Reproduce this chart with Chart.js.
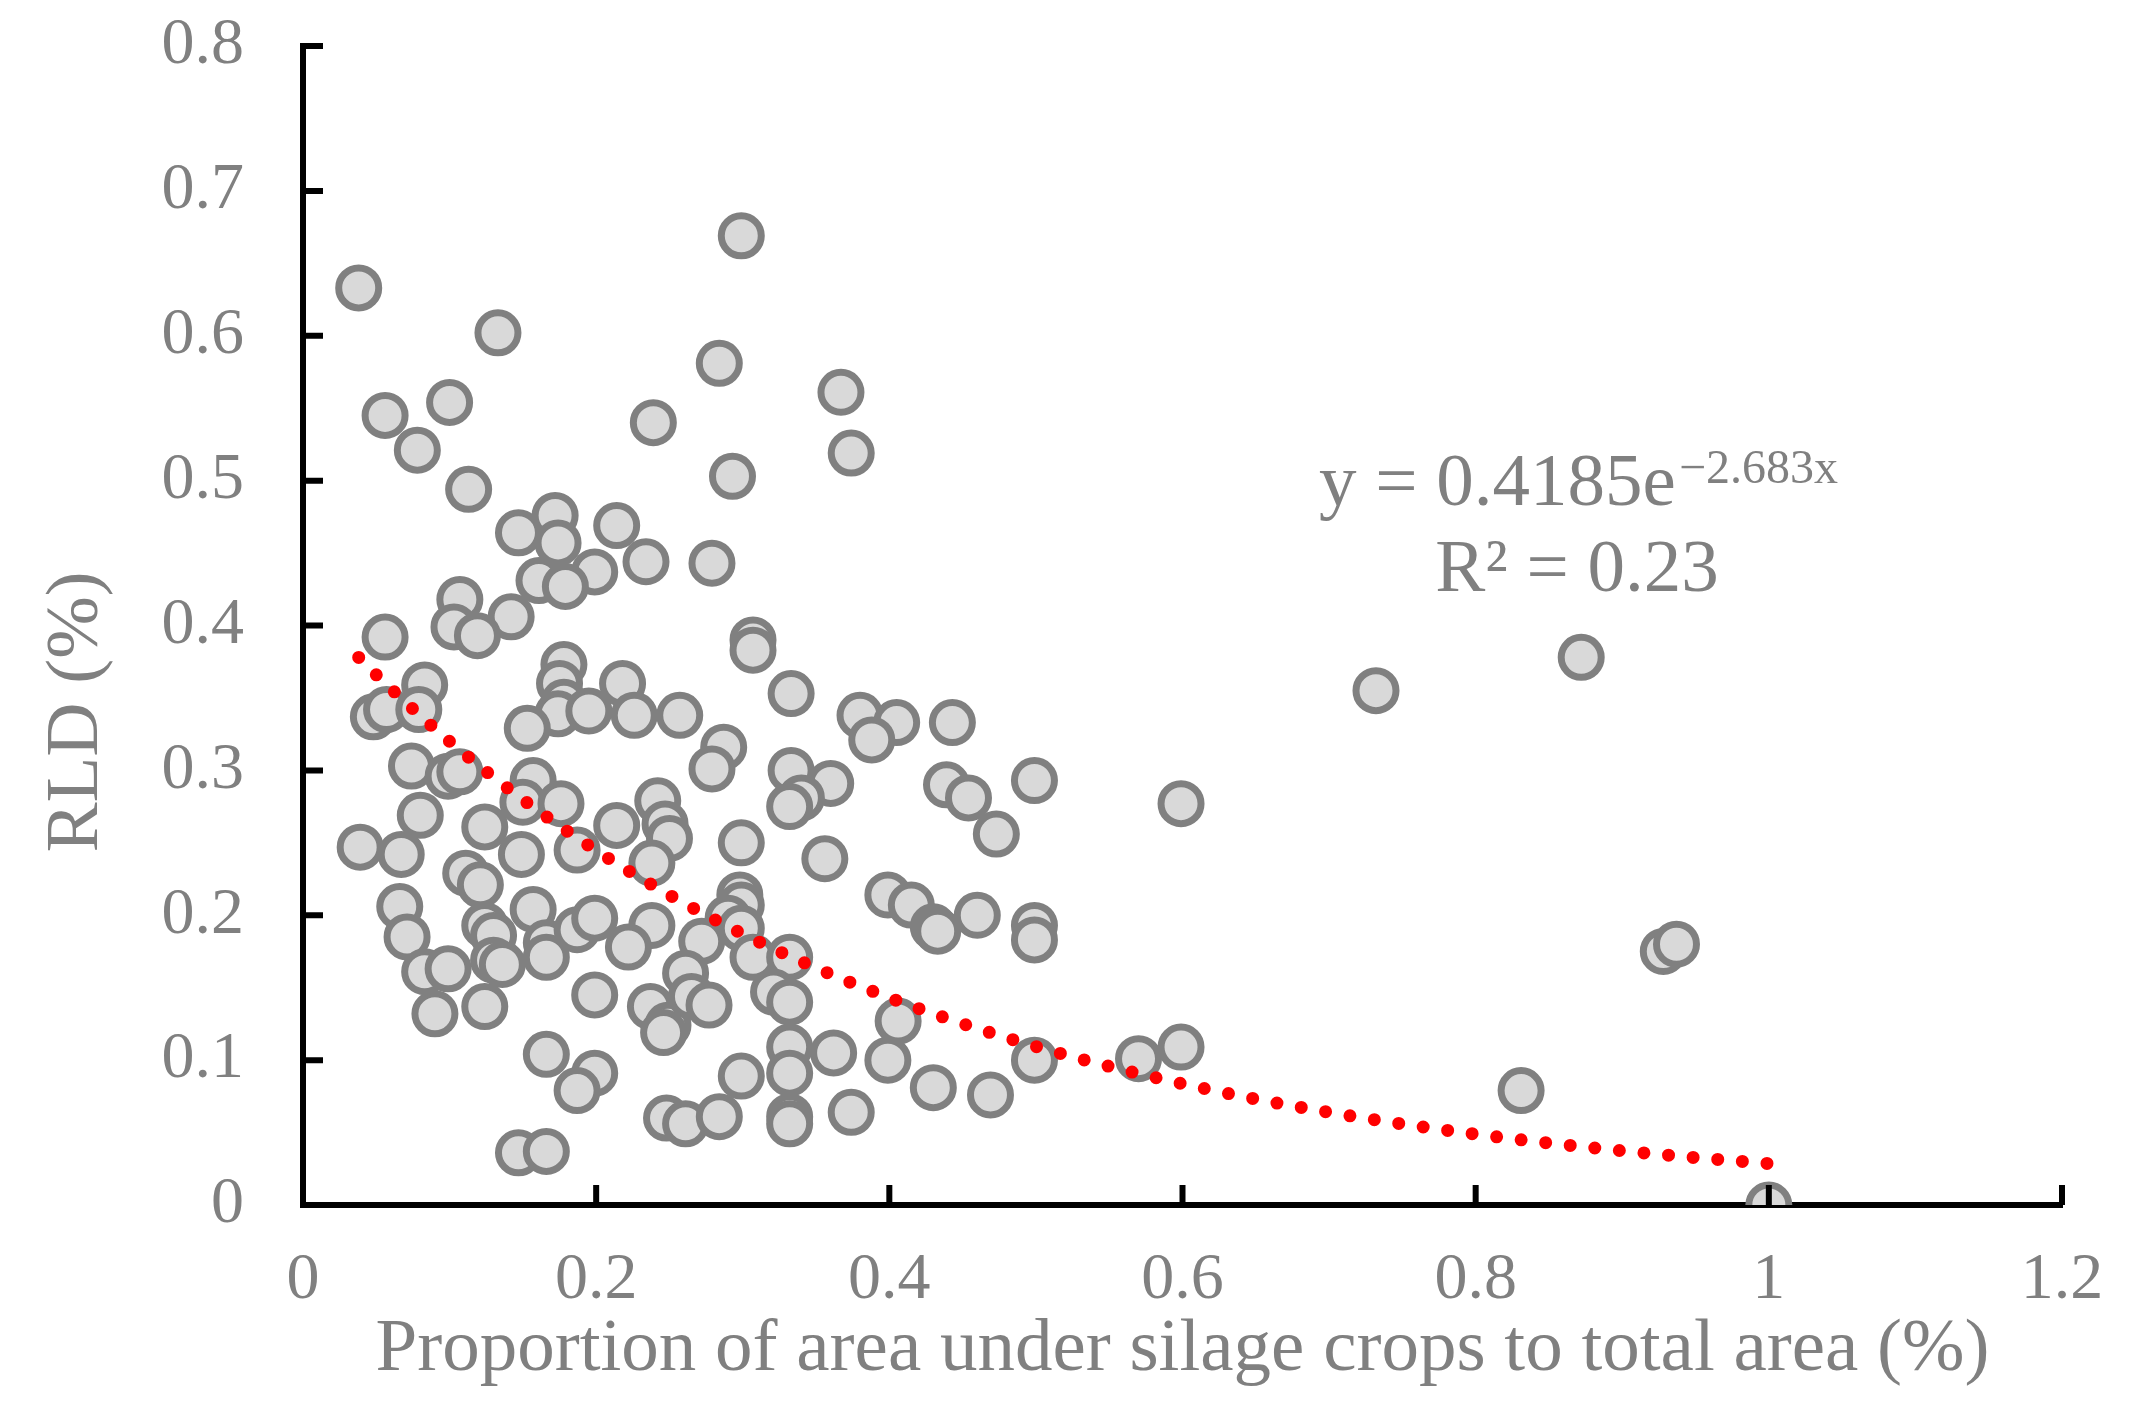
<!DOCTYPE html>
<html>
<head>
<meta charset="utf-8">
<script src="https://cdn.jsdelivr.net/npm/chart.js@4.4.0/dist/chart.umd.min.js"></script>
<style>
  html, body { margin: 0; padding: 0; background: #fff; }
  #wrap { width: 2134px; height: 1419px; }
</style>
</head>
<body>
<div id="wrap"><canvas id="rldChart" width="2134" height="1419"></canvas></div>
<script>
// Proportion of area under silage crops (x) vs RLD (y)
const propX = [
  0.038, 0.299, 0.133, 0.284, 0.056, 0.100, 0.367, 0.078, 0.374, 0.239,
  0.293, 0.113, 0.147, 0.172, 0.174, 0.214, 0.234, 0.279, 0.199, 0.161,
  0.179, 0.107, 0.142, 0.103, 0.119, 0.056, 0.307, 0.307, 0.178, 0.175,
  0.218, 0.178, 0.174, 0.195, 0.226, 0.257, 0.153, 0.287, 0.279, 0.083,
  0.048, 0.057, 0.079, 0.074, 0.099, 0.107, 0.333, 0.380, 0.405, 0.388,
  0.443, 0.333, 0.360, 0.340, 0.332, 0.439, 0.454, 0.499, 0.473, 0.732,
  0.872, 0.599, 0.157, 0.150, 0.176, 0.080, 0.214, 0.242, 0.247, 0.250,
  0.124, 0.039, 0.067, 0.149, 0.187, 0.238, 0.111, 0.121, 0.066, 0.299,
  0.356, 0.399, 0.415, 0.430, 0.433, 0.460, 0.499, 0.499, 0.298, 0.299,
  0.290, 0.299, 0.071, 0.083, 0.099, 0.090, 0.124, 0.124, 0.130, 0.130,
  0.136, 0.157, 0.166, 0.166, 0.187, 0.199, 0.238, 0.222, 0.199, 0.272,
  0.261, 0.237, 0.249, 0.246, 0.265, 0.277, 0.307, 0.332, 0.321, 0.332,
  0.406, 0.928, 0.937, 0.332, 0.362, 0.399, 0.499, 0.570, 0.599, 0.166,
  0.199, 0.187, 0.248, 0.261, 0.284, 0.147, 0.166, 0.332, 0.299, 0.430,
  0.469, 0.374, 0.332, 0.332, 0.831, 1.000
];
const rldY = [
  0.633, 0.669, 0.602, 0.581, 0.545, 0.554, 0.561, 0.521, 0.519, 0.540,
  0.503, 0.494, 0.464, 0.476, 0.457, 0.469, 0.444, 0.443, 0.437, 0.431,
  0.427, 0.418, 0.406, 0.399, 0.393, 0.392, 0.390, 0.383, 0.373, 0.360,
  0.360, 0.347, 0.339, 0.341, 0.338, 0.338, 0.329, 0.316, 0.301, 0.359,
  0.337, 0.342, 0.342, 0.303, 0.296, 0.299, 0.353, 0.338, 0.333, 0.321,
  0.333, 0.300, 0.291, 0.281, 0.275, 0.290, 0.281, 0.293, 0.256, 0.355,
  0.378, 0.277, 0.293, 0.278, 0.277, 0.269, 0.262, 0.279, 0.263, 0.253,
  0.261, 0.247, 0.242, 0.242, 0.245, 0.236, 0.229, 0.221, 0.206, 0.250,
  0.239, 0.214, 0.207, 0.192, 0.189, 0.200, 0.193, 0.183, 0.214, 0.207,
  0.198, 0.191, 0.185, 0.161, 0.163, 0.132, 0.137, 0.193, 0.186, 0.169,
  0.166, 0.204, 0.181, 0.171, 0.190, 0.198, 0.193, 0.178, 0.145, 0.182,
  0.160, 0.137, 0.124, 0.119, 0.144, 0.138, 0.171, 0.171, 0.147, 0.140,
  0.127, 0.175, 0.180, 0.109, 0.105, 0.100, 0.100, 0.101, 0.109, 0.104,
  0.091, 0.079, 0.060, 0.056, 0.061, 0.036, 0.037, 0.091, 0.089, 0.081,
  0.076, 0.064, 0.061, 0.056, 0.079, 0.000
];

// Excel exponential trendline shown on the figure: y = 0.4185 e^(-2.683x)
const trendA = 0.4185;
const trendB = -2.683;
const trendX = [0.038, 0.05, 0.1, 0.15, 0.2, 0.25, 0.3, 0.35, 0.4, 0.45,
                0.5, 0.55, 0.6, 0.65, 0.7, 0.75, 0.8, 0.85, 0.9, 0.95, 1.0];

const xTicks = [0, 0.2, 0.4, 0.6, 0.8, 1, 1.2];
const yTicks = [0, 0.1, 0.2, 0.3, 0.4, 0.5, 0.6, 0.7, 0.8];

const gray  = "#808080";
const serif = '"Times New Roman", "Liberation Serif", serif';

const points = propX.map((x, i) => ({ x, y: rldY[i] }));
const trend  = trendX.map(x => ({ x, y: trendA * Math.exp(trendB * x) }));

// Inward tick marks, y-axis title and the equation text
const chartDecor = {
  id: "chartDecor",
  afterDraw(chart) {
    const { ctx, chartArea } = chart;
    const sx = chart.scales.x, sy = chart.scales.y;
    ctx.save();
    ctx.strokeStyle = "#000";
    ctx.lineWidth = 6;
    ctx.beginPath();
    yTicks.slice(1).forEach(v => {
      const p = sy.getPixelForValue(v);
      ctx.moveTo(chartArea.left, p);
      ctx.lineTo(chartArea.left + 20, p);
    });
    xTicks.slice(1).forEach(v => {
      const p = sx.getPixelForValue(v);
      ctx.moveTo(p, chartArea.bottom);
      ctx.lineTo(p, chartArea.bottom - 20);
    });
    ctx.stroke();

    ctx.fillStyle = gray;
    ctx.textBaseline = "alphabetic";

    // y axis title
    ctx.save();
    ctx.translate(97, 712);
    ctx.rotate(-Math.PI / 2);
    ctx.textAlign = "center";
    ctx.font = "75px " + serif;
    ctx.fillText("RLD (%)", 0, 0);
    ctx.restore();

    // equation
    const cx = 1577;
    const main = "y = 0.4185e", sup = "\u22122.683x";
    ctx.textAlign = "left";
    ctx.font = "75px " + serif;
    const wMain = ctx.measureText(main).width;
    ctx.font = "48px " + serif;
    const wSup = ctx.measureText(sup).width;
    const x0 = cx - (wMain + wSup) / 2;
    ctx.font = "75px " + serif;
    ctx.fillText(main, x0, 505);
    ctx.font = "48px " + serif;
    ctx.fillText(sup, x0 + wMain + 3, 483);

    ctx.textAlign = "center";
    ctx.font = "75px " + serif;
    ctx.fillText("R\u00b2 = 0.23", cx, 591);
    ctx.restore();
  }
};

new Chart(document.getElementById("rldChart"), {
  type: "scatter",
  data: {
    datasets: [
      {
        type: "line",
        data: trend,
        order: 0,
        borderColor: "#ff0000",
        borderWidth: 13,
        borderDash: [0, 24.7],
        borderCapStyle: "round",
        pointRadius: 0,
        fill: false,
        tension: 0,
        cubicInterpolationMode: "monotone"
      },
      {
        data: points,
        order: 1,
        pointRadius: 20,
        pointBorderWidth: 7,
        pointBackgroundColor: "#d9d9d9",
        pointBorderColor: gray
      }
    ]
  },
  options: {
    responsive: false,
    animation: false,
    devicePixelRatio: 1,
    layout: { padding: { top: 46, right: 72, bottom: 0, left: 0 } },
    plugins: { legend: { display: false }, tooltip: { enabled: false } },
    scales: {
      x: {
        type: "linear",
        min: 0, max: 1.2,
        afterBuildTicks: s => { s.ticks = xTicks.map(v => ({ value: v })); },
        afterFit: s => { s.height = 214; s.paddingLeft = 0; s.paddingRight = 0; },
        grid: { display: false, drawTicks: false },
        border: { display: true, color: "#000", width: 6 },
        ticks: {
          color: gray,
          padding: 36,
          maxRotation: 0,
          font: { family: serif, size: 66 },
          callback: v => String(v)
        },
        title: {
          display: true,
          text: "Proportion of area under silage crops to total area (%)",
          color: gray,
          font: { family: serif, size: 75 },
          padding: { top: 0, bottom: 24 }
        }
      },
      y: {
        type: "linear",
        min: 0, max: 0.8,
        afterBuildTicks: s => { s.ticks = yTicks.map(v => ({ value: v })); },
        afterFit: s => { s.width = 303; s.paddingTop = 0; s.paddingBottom = 0; },
        grid: { display: false, drawTicks: false },
        border: { display: true, color: "#000", width: 6 },
        ticks: {
          color: gray,
          padding: 59,
          font: { family: serif, size: 66 },
          callback: v => String(v)
        }
      }
    }
  },
  plugins: [chartDecor]
});
</script>
</body>
</html>
